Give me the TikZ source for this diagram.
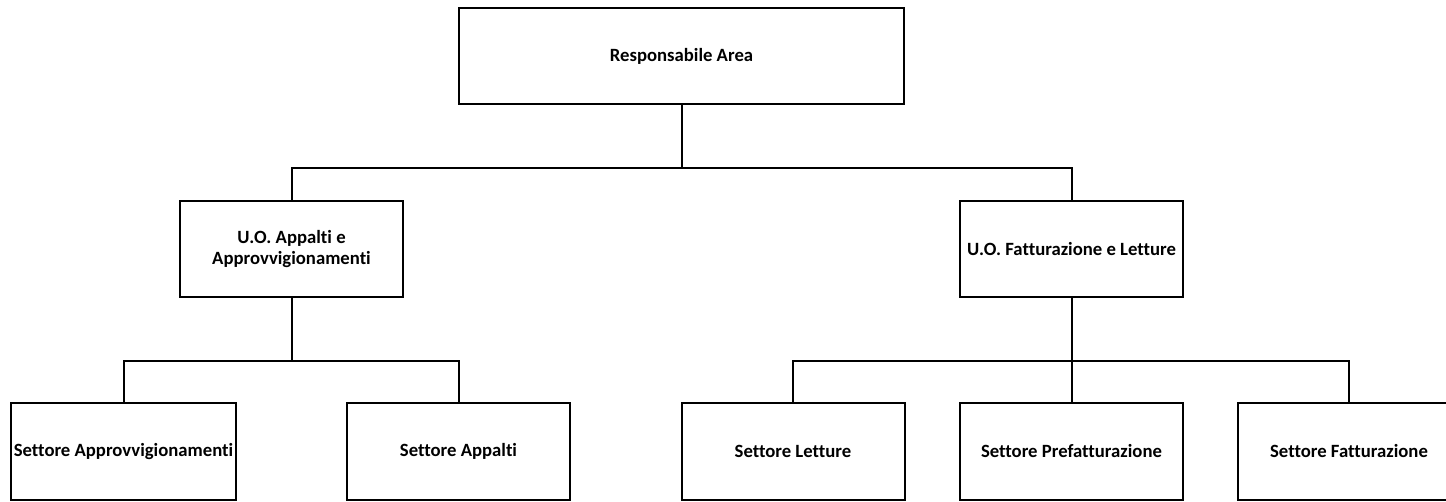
\documentclass[tikz,border=0pt]{standalone}
\usepackage{fontspec}
\setmainfont[Ligatures={NoCommon}]{Carlito}
\begin{document}
\begin{tikzpicture}[x=1pt,y=-1pt,
  box/.style={draw=black,line width=2pt,fill=white,rectangle,inner sep=0pt,
    minimum width=223pt,minimum height=96pt,align=center,
    font=\fontsize{18.7}{21}\selectfont\bfseries},
  conn/.style={draw=black,line width=2pt}]
\useasboundingbox (0,0) rectangle (1446,501);
\node[box,minimum width=445pt] (top) at (681.5,56) {Responsabile Area};
\node[box] (midL) at (291.5,249) {U.O. Appalti e\\Approvvigionamenti};
\node[box] (midR) at (1071.5,249) {U.O. Fatturazione e Letture};
\node[box,minimum width=225pt,minimum height=97pt] (b1) at (123.5,451.5) {Settore Approvvigionamenti};
\node[box,minimum height=97pt] (b2) at (458.5,451.5) {Settore Appalti};
\node[box,minimum height=97pt] (b3) at (793,451.5) {Settore Letture};
\node[box,minimum height=97pt] (b4) at (1071.5,451.5) {Settore Prefatturazione};
\node[box,minimum height=97pt] (b5) at (1349,451.5) {Settore Fatturazione};
\coordinate (j1) at (681.5,168);
\coordinate (j2) at (291.5,361);
\coordinate (j3) at (1071.5,361);
\draw[conn] (top.south) -- (j1);
\draw[conn] (midL.north) |- (j1) -| (midR.north);
\draw[conn] (midL.south) -- (j2);
\draw[conn] (b1.north) |- (j2) -| (b2.north);
\draw[conn] (midR.south) -- (j3) -- (b4.north);
\draw[conn] (b3.north) |- (j3) -| (b5.north);
\end{tikzpicture}
\end{document}
